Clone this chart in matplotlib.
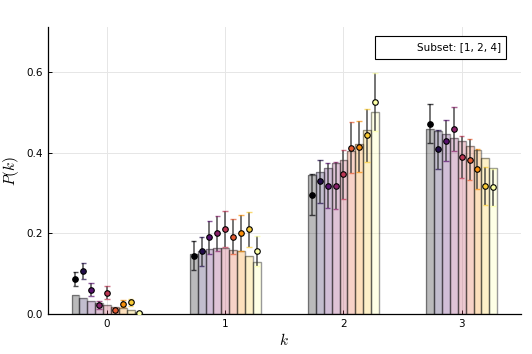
import numpy as np
import matplotlib
matplotlib.use("Agg")
import matplotlib.pyplot as plt
from matplotlib import cm
from matplotlib.patches import Rectangle

plt.rcParams['mathtext.fontset'] = 'cm'

k_values = [0, 1, 2, 3]
n_series = 9

# bar heights: rows = series, cols = k
bar_heights = [
    [0.047, 0.150, 0.345, 0.460],
    [0.040, 0.156, 0.351, 0.454],
    [0.033, 0.160, 0.362, 0.446],
    [0.028, 0.163, 0.375, 0.436],
    [0.022, 0.164, 0.382, 0.430],
    [0.018, 0.159, 0.405, 0.417],
    [0.014, 0.156, 0.422, 0.407],
    [0.010, 0.145, 0.457, 0.386],
    [0.004, 0.129, 0.500, 0.363],
]

point_values = [
    [0.086, 0.145, 0.296, 0.472],
    [0.107, 0.155, 0.329, 0.408],
    [0.060, 0.190, 0.318, 0.430],
    [0.023, 0.200, 0.318, 0.458],
    [0.053, 0.211, 0.346, 0.389],
    [0.011, 0.192, 0.412, 0.383],
    [0.026, 0.201, 0.415, 0.359],
    [0.029, 0.210, 0.443, 0.318],
    [0.003, 0.156, 0.526, 0.314],
]

point_errors = [
    [0.017, 0.035, 0.050, 0.049],
    [0.020, 0.037, 0.054, 0.048],
    [0.016, 0.041, 0.056, 0.051],
    [0.010, 0.043, 0.058, 0.055],
    [0.017, 0.045, 0.061, 0.052],
    [0.005, 0.043, 0.063, 0.051],
    [0.008, 0.044, 0.064, 0.049],
    [0.009, 0.044, 0.066, 0.047],
    [0.003, 0.038, 0.071, 0.046],
]

legend_label = "Subset: [1, 2, 4]"

fig = plt.figure(figsize=(5.32, 3.54), dpi=100)
ax = fig.add_axes([0.090, 0.113, 0.889, 0.811])

colors = [cm.inferno(v) for v in np.linspace(0, 1, n_series)]
total_width = 0.6
bw = total_width / n_series
k_arr = np.array(k_values, dtype=float)

for i in range(n_series):
    xs = k_arr - total_width / 2 + bw * (i + 0.5)
    c = colors[i]
    ax.bar(xs, bar_heights[i], width=bw, color=c, alpha=0.27, zorder=2)
    ax.bar(xs, bar_heights[i], width=bw, fill=False,
           edgecolor=(0, 0, 0, 0.4), linewidth=1.0, zorder=2.5)
    y = np.array(point_values[i])
    e = np.array(point_errors[i])
    ax.vlines(xs, y - e, y + e, color=(0.2, 0.2, 0.2, 0.8), linewidth=1.2, zorder=3)
    cap = bw * 0.35
    for xx, lo, hi in zip(xs, y - e, y + e):
        ax.hlines([lo, hi], xx - cap, xx + cap, color=c, alpha=0.7, linewidth=1.0, zorder=3)
    ax.plot(xs, y, 'o', markersize=4, markerfacecolor=c, markeredgecolor='black',
            markeredgewidth=0.8, linestyle='none', zorder=4)

ax.set_xlim(-0.5, 3.5)
ax.set_ylim(0, 0.712)
ax.set_xticks(k_values)
ax.set_xticklabels([str(k) for k in k_values])
ax.set_yticks([0.0, 0.2, 0.4, 0.6])
ax.set_yticklabels(['0.0', '0.2', '0.4', '0.6'])
ax.grid(True, color='#e6e6e6', linewidth=0.7, zorder=0)
ax.set_axisbelow(True)
for s in ['top', 'right']:
    ax.spines[s].set_visible(False)
for s in ['left', 'bottom']:
    ax.spines[s].set_linewidth(0.9)
ax.tick_params(direction='in', length=3, labelsize=7.5, width=0.7)
ax.set_xlabel(r'$k$', fontsize=11, labelpad=2)
ax.set_ylabel(r'$P(k)$', fontsize=11, labelpad=4)

# legend box (text-only entry, right aligned)
ax.add_patch(Rectangle((0.691, 0.887), 0.277, 0.082, transform=ax.transAxes,
                       facecolor='white', edgecolor='black', linewidth=0.8,
                       zorder=10, clip_on=False))
ax.text(0.958, 0.928, legend_label, transform=ax.transAxes, ha='right',
        va='center', fontsize=7.5, zorder=11)

fig.savefig('out.png', dpi=100)
